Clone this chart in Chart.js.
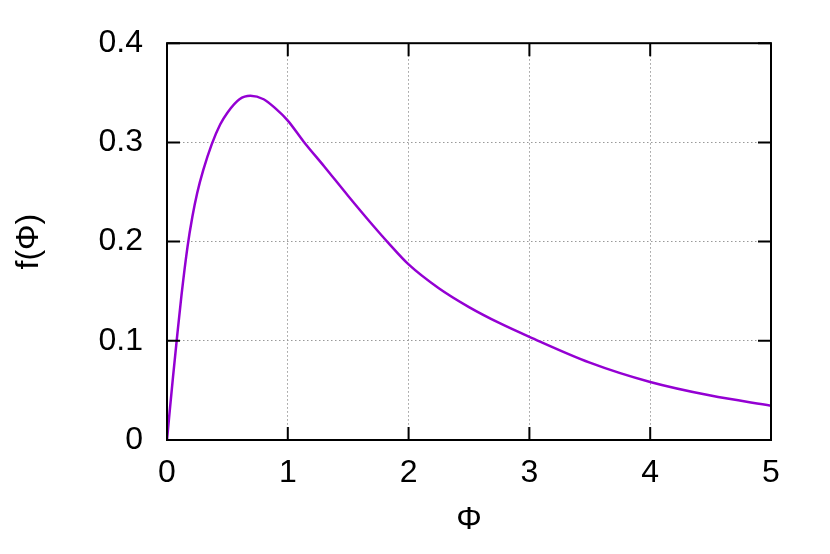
<!DOCTYPE html>
<html>
<head>
<meta charset="utf-8">
<script src="https://cdn.jsdelivr.net/npm/chart.js@4/dist/chart.umd.min.js"></script>
<style>
  html, body { margin: 0; padding: 0; background: #fff; }
  #wrap { width: 830px; height: 554px; }
</style>
</head>
<body>
<div id="wrap"><canvas id="chart" width="830" height="554"></canvas></div>
<script>
// values
const phiValues = [0, 0.02, 0.05, 0.08, 0.12, 0.17, 0.21, 0.25, 0.3, 0.37, 0.44, 0.5, 0.6, 0.69, 0.8, 0.9, 1.0, 1.13, 1.3, 1.5, 1.7, 1.83, 2.0, 2.25, 2.5, 2.75, 3.0, 3.5, 4.0, 4.5, 5.0];
const fValues = [0, 0.026, 0.064, 0.1, 0.146, 0.195, 0.225, 0.249, 0.272, 0.298, 0.318, 0.33, 0.3435, 0.347, 0.3435, 0.334, 0.322, 0.301, 0.276, 0.246, 0.217, 0.199, 0.177, 0.153, 0.134, 0.118, 0.104, 0.078, 0.0585, 0.0448, 0.0346];
const xTicks = [0, 1, 2, 3, 4, 5];
const yTicks = [0, 0.1, 0.2, 0.3, 0.4];

const points = phiValues.map((p, i) => ({ x: p, y: fValues[i] }));
const fontFamily = "'Liberation Sans', Arial, sans-serif";

// frame and inward tick marks, gnuplot style
const framePlugin = {
    id: "frame",
    afterDraw(chart) {
        const ctx = chart.ctx;
        const a = chart.chartArea;
        const xs = chart.scales.x;
        const ys = chart.scales.y;
        const len = 13;
        ctx.save();
        ctx.strokeStyle = "#000";
        ctx.lineWidth = 2;
        ctx.beginPath();
        xTicks.forEach(v => {
            const px = xs.getPixelForValue(v);
            ctx.moveTo(px, a.bottom); ctx.lineTo(px, a.bottom - len);
            ctx.moveTo(px, a.top); ctx.lineTo(px, a.top + len);
        });
        yTicks.forEach(v => {
            const py = ys.getPixelForValue(v);
            ctx.moveTo(a.left, py); ctx.lineTo(a.left + len, py);
            ctx.moveTo(a.right, py); ctx.lineTo(a.right - len, py);
        });
        ctx.stroke();
        ctx.strokeRect(a.left, a.top, a.right - a.left, a.bottom - a.top);
        ctx.restore();
    }
};

new Chart(document.getElementById("chart"), {
    type: "line",
    data: {
        datasets: [{
            data: points,
            borderColor: "#9400D3",
            borderWidth: 2.5,
            pointRadius: 0,
            fill: false,
            cubicInterpolationMode: "monotone"
        }]
    },
    options: {
        responsive: false,
        animation: false,
        layout: { padding: { top: 39, right: 59, bottom: 11, left: 0 } },
        plugins: { legend: { display: false }, tooltip: { enabled: false } },
        scales: {
            x: {
                type: "linear",
                min: 0,
                max: 5,
                afterBuildTicks: s => { s.ticks = xTicks.map(v => ({ value: v })); },
                afterFit: s => { s.height = 103; },
                ticks: { color: "#000", padding: 14, font: { family: fontFamily, size: 32 } },
                grid: { color: "#999", lineWidth: 1, drawTicks: false },
                border: { display: false, dash: [1.5, 2.5] },
                title: { display: true, text: "Φ", color: "#000", padding: { top: 4, bottom: 4 }, font: { family: fontFamily, size: 32 } }
            },
            y: {
                type: "linear",
                min: 0,
                max: 0.4,
                afterBuildTicks: s => { s.ticks = yTicks.map(v => ({ value: v })); },
                afterFit: s => { s.width = 167; },
                ticks: {
                    color: "#000",
                    padding: 24,
                    font: { family: fontFamily, size: 32 },
                    callback: v => String(v)
                },
                grid: { color: "#999", lineWidth: 1, drawTicks: false },
                border: { display: false, dash: [1.5, 2.5] },
                title: { display: true, text: "f(Φ)", color: "#000", padding: { top: 10, bottom: 4 }, font: { family: fontFamily, size: 32 } }
            }
        }
    },
    plugins: [framePlugin]
});
</script>
</body>
</html>
